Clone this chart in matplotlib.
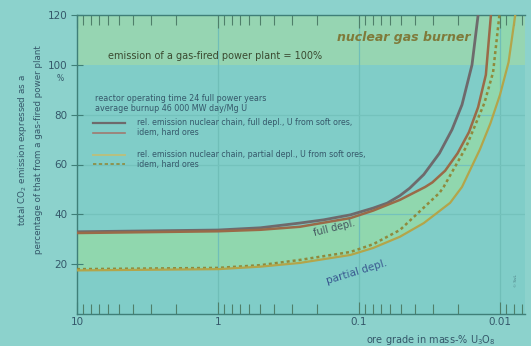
import matplotlib
matplotlib.use("Agg")
import matplotlib.pyplot as plt
import numpy as np
from matplotlib.ticker import LogLocator, NullFormatter, FixedLocator

# --- data (ore grade in mass-% U3O8, emission in %) ---
grade_full_soft = [10, 1, 0.5, 0.263, 0.178, 0.115, 0.0794, 0.0631, 0.0513, 0.0437, 0.0347, 0.0269, 0.0219, 0.0186, 0.0158, 0.0143]
emis_full_soft  = [33, 33.7, 34.6, 36.5, 37.8, 39.8, 42.5, 44.5, 47.5, 50.5, 56, 64.5, 74, 84, 100, 120]

grade_full_hard = [10, 1, 0.5, 0.263, 0.115, 0.0794, 0.0513, 0.0339, 0.0302, 0.0245, 0.0200, 0.0166, 0.0143, 0.0126, 0.0116]
emis_full_hard  = [32.5, 33.2, 33.8, 35.0, 38.5, 41.5, 45.8, 51, 52.8, 57.5, 64.5, 73, 83, 96, 120]

grade_part_soft = [10, 1, 0.5, 0.263, 0.115, 0.0794, 0.0513, 0.0269, 0.0251, 0.0174, 0.0129, 0.0112, 0.0101]
emis_part_soft  = [18, 18.5, 19.6, 21.7, 24.9, 28, 33.7, 48.6, 51, 67, 84.7, 97, 120]

grade_part_hard = [10, 1, 0.5, 0.263, 0.115, 0.0794, 0.0513, 0.0347, 0.0226, 0.0186, 0.0139, 0.0117, 0.0100, 0.0087, 0.0078]
emis_part_hard  = [17.5, 18, 19, 20.5, 23.7, 26.5, 31, 36.5, 44.6, 51, 66, 76.5, 88, 101, 120]

yticks = [20, 40, 60, 80, 100, 120]
xticks = [10, 1, 0.1, 0.01]
xticklabels = ["10", "1", "0.1", "0.01"]

legend_labels = [
    "rel. emission nuclear chain, full depl., U from soft ores,",
    "idem, hard ores",
    "rel. emission nuclear chain, partial depl., U from soft ores,",
    "idem, hard ores",
]

bg = "#80cdc8"
band = "#96d5b2"
dark = "#3f7f78"
txt = "#35586a"

fig = plt.figure(figsize=(5.31, 3.46), dpi=100)
fig.patch.set_facecolor("#8cd2cc")
ax = fig.add_axes([77/531, 1-314/346, (525-77)/531, (314-15)/346])
ax.set_facecolor(bg)
ax.set_xscale("log")
ax.set_xlim(10, 0.00665)
ax.set_ylim(0, 120)

# bands
ax.axhspan(100, 120, color=band, zorder=0.5, lw=0)
poly_x = list(grade_full_hard) + list(grade_part_hard)[::-1]
poly_y = list(emis_full_hard) + list(emis_part_hard)[::-1]
ax.fill(poly_x, poly_y, color="#90d7ae", lw=0, zorder=0.6)

# grid
for gx in [1, 0.1, 0.01]:
    ax.axvline(gx, color="#70beb8", lw=0.9, zorder=0.7)
for gy in [40, 60, 80]:
    ax.axhline(gy, color="#74c2bc", lw=0.9, zorder=0.7)

# curves
ax.plot(grade_full_soft, emis_full_soft, color="#6e6a6c", lw=2.0, zorder=3)
ax.plot(grade_full_hard, emis_full_hard, color="#9a6a48", lw=1.8, zorder=3)
ax.plot(grade_part_soft, emis_part_soft, color="#8f8a3c", lw=1.8, ls=(0, (1.2, 1.2)), zorder=3)
ax.plot(grade_part_hard, emis_part_hard, color="#b3a54a", lw=1.6, zorder=3)

# spines
ax.spines["right"].set_visible(False)
for s in ["left", "top", "bottom"]:
    ax.spines[s].set_color(dark)
    ax.spines[s].set_linewidth(1.0)

# ticks
ax.xaxis.set_major_locator(FixedLocator(xticks))
ax.set_xticklabels(xticklabels)
ax.xaxis.set_minor_locator(LogLocator(base=10, subs=np.arange(2, 10)))
ax.xaxis.set_minor_formatter(NullFormatter())
ax.tick_params(axis="x", which="both", direction="in", top=True, bottom=True,
               color="#4f7f6a", labelsize=7.5, labelcolor=txt, pad=2)
ax.tick_params(axis="x", which="major", length=9, width=0.8)
ax.tick_params(axis="x", which="minor", length=7, width=0.8)
ax.set_yticks(yticks)
ax.tick_params(axis="y", which="major", direction="inout", length=8, width=0.8,
               color=dark, labelsize=7.5, labelcolor=txt, pad=3)
ax.text(-0.03, 96.5, "%", transform=ax.get_yaxis_transform(), fontsize=5.5,
        color=txt, ha="right", va="top")

ax.set_xlabel("ore grade in mass-% U$_3$O$_8$", fontsize=7, color=txt, labelpad=1)
ax.xaxis.set_label_coords(0.79, -0.065)
fig.text(0.043, 0.567, "total CO$_2$ emission expressed as a", rotation=90,
         fontsize=6.3, color=txt, ha="center", va="center")
fig.text(0.073, 0.567, "percentage of that from a gas-fired power plant", rotation=90,
         fontsize=6.3, color=txt, ha="center", va="center")

# annotations
ax.text(0.048, 111, "nuclear gas burner", fontsize=9, color="#7f7a3a",
        fontweight="bold", style="italic", ha="center", va="center", zorder=4)
ax.text(6.0, 103.5, "emission of a gas-fired power plant = 100%", fontsize=7,
        color="#3a4a30", ha="left", va="center", zorder=4)
ax.text(7.45, 84.5, "reactor operating time 24 full power years\naverage burnup 46 000 MW day/Mg U",
        fontsize=5.8, color=txt, ha="left", va="center", linespacing=1.1, zorder=4)

leg_styles = [
    dict(color="#6e6a6c", lw=1.6, ls="-"),
    dict(color="#a07a70", lw=1.2, ls="-"),
    dict(color="#b8c080", lw=1.4, ls="-"),
    dict(color="#8f8a3c", lw=1.2, ls=(0, (2, 1.5))),
]
leg_y = [76.7, 72.7, 63.9, 60.2]
for st, lab, yy in zip(leg_styles, legend_labels, leg_y):
    ax.plot([7.7, 4.57], [yy, yy], **st, zorder=4)
    ax.text(3.75, yy, lab, fontsize=5.7, color=txt, ha="left", va="center", zorder=4)

ax.text(0.15, 34.5, "full depl.", fontsize=7, color="#44565e", rotation=14,
        ha="center", va="center", zorder=4)
ax.text(0.103, 16.9, "partial depl.", fontsize=7.5, color="#3a5a90", rotation=17,
        ha="center", va="center", zorder=4)
fig.text(0.972, 0.19, "© SvL", rotation=90, fontsize=3, color="#4a7a80",
         ha="center", va="center")

fig.savefig("out.png", dpi=100, facecolor=fig.get_facecolor())
